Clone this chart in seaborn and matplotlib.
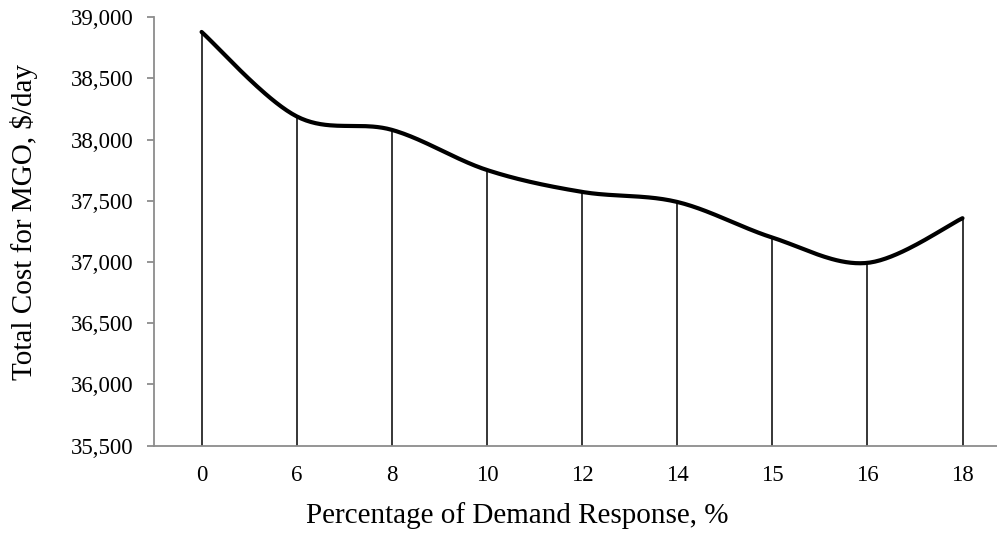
import numpy as np
import matplotlib
matplotlib.use("Agg")
import matplotlib.pyplot as plt
from matplotlib.ticker import FuncFormatter
import seaborn as sns

# Demand response share (%) and resulting daily MGO cost
dr_levels = ["0", "6", "8", "10", "12", "14", "15", "16", "18"]
total_cost = [38880, 38190, 38080, 37752, 37573, 37491, 37200, 36993, 37358]

y_ticks = [35500, 36000, 36500, 37000, 37500, 38000, 38500, 39000]


def smooth_curve(x, y, steps=40):
    """Piecewise cubic Bezier through the points (Catmull-Rom style tangents)."""
    pts = np.column_stack([x, y]).astype(float)
    n = len(pts)
    out = []
    for i in range(n - 1):
        p0 = pts[i - 1] if i > 0 else pts[i]
        p1 = pts[i]
        p2 = pts[i + 1]
        p3 = pts[i + 2] if i + 2 < n else pts[i + 1]
        c1 = p1 + (p2 - p0) / 6.0
        c2 = p2 - (p3 - p1) / 6.0
        t = np.linspace(0, 1, steps, endpoint=(i == n - 2))[:, None]
        seg = ((1 - t) ** 3) * p1 + 3 * ((1 - t) ** 2) * t * c1 \
            + 3 * (1 - t) * t ** 2 * c2 + t ** 3 * p2
        out.append(seg)
    out = np.vstack(out)
    return out[:, 0], out[:, 1]


sns.set_theme(style="white")
plt.rcParams["font.family"] = ["Liberation Serif", "DejaVu Serif"]

fig = plt.figure(figsize=(9.97, 5.33), dpi=100)
ax = fig.add_axes([0.1545, 0.164, 0.8586, 0.8036])

pos = np.arange(len(dr_levels))
ymin = y_ticks[0]

# Drop lines from each point to the category axis
ax.vlines(pos, ymin, total_cost, colors="black", linewidth=1.1, zorder=2)

# Smoothed cost curve
sx, sy = smooth_curve(pos, total_cost)
sns.lineplot(x=sx, y=sy, ax=ax, color="black", linewidth=3.0,
             sort=False, estimator=None, zorder=3)
ax.lines[-1].set_solid_capstyle("round")

ax.set_xlim(-0.5, len(dr_levels) - 0.5)
ax.set_ylim(y_ticks[0], y_ticks[-1])
ax.set_xticks(pos)
ax.set_xticklabels(dr_levels)
ax.set_yticks(y_ticks)
ax.yaxis.set_major_formatter(FuncFormatter(lambda v, _: f"{int(v):,}"))

axis_grey = "#8c8c8c"
for side in ("top", "right"):
    ax.spines[side].set_visible(False)
for side in ("left", "bottom"):
    ax.spines[side].set_color(axis_grey)
    ax.spines[side].set_linewidth(1.3)

ax.tick_params(axis="y", which="major", left=True, length=5, width=1.3,
               color=axis_grey, labelsize=16.5, pad=10, labelcolor="black")
ax.tick_params(axis="x", which="major", bottom=False, length=0,
               labelsize=16.5, pad=14, labelcolor="black")

ax.set_xlabel("Percentage of Demand Response, %", fontsize=21, color="black")
ax.set_ylabel("Total Cost for MGO, $/day", fontsize=21, color="black")
ax.xaxis.set_label_coords(0.424, -0.132)
ax.yaxis.set_label_coords(-0.136, 0.522)

fig.savefig("out.png", dpi=100)
